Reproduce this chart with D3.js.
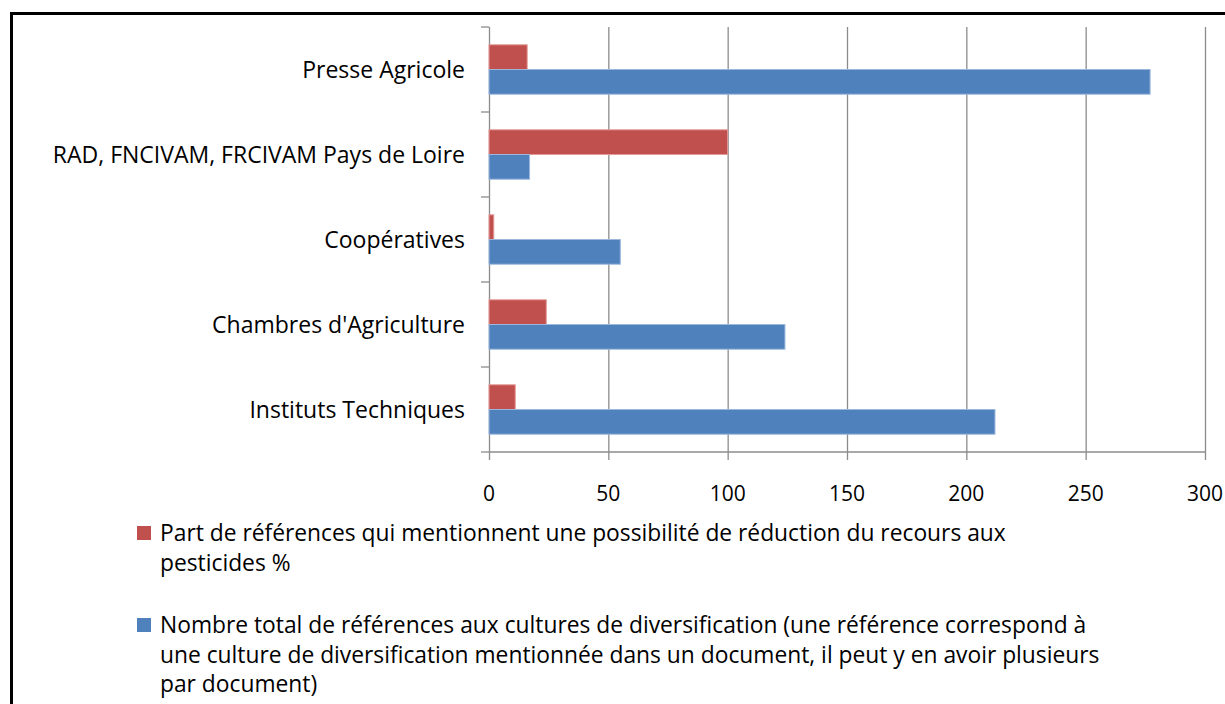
<!DOCTYPE html>
<html>
<head>
<meta charset="utf-8">
<script src="https://cdn.jsdelivr.net/npm/d3@7"></script>
<style>
  body { margin: 0; background: #fff; }
  svg text { font-family: "Open Sans", Lato, sans-serif; fill: #000; }
</style>
</head>
<body>
<svg width="1225" height="704"></svg>
<script>
// categories, top to bottom
var categories = ["Presse Agricole", "RAD, FNCIVAM, FRCIVAM Pays de Loire", "Coopératives", "Chambres d'Agriculture", "Instituts Techniques"];
var partPct = [16, 100, 2, 24, 11];          // red
var nbTotal = [277, 17, 55, 124, 212];       // blue
var xTicks = [0, 50, 100, 150, 200, 250, 300];
var legendRed = ["Part de références qui mentionnent une possibilité de réduction du recours aux", "pesticides %"];
var legendBlue = ["Nombre total de références aux cultures de diversification (une référence correspond à", "une culture de diversification mentionnée dans un document, il peut y en avoir plusieurs", "par document)"];

var red = "#c0504d", blue = "#4f81bd";

var svg = d3.select("svg");

// frame
svg.append("rect").attr("x", 11.5).attr("y", 13.5).attr("width", 1240).attr("height", 720)
  .attr("fill", "none").attr("stroke", "#000").attr("stroke-width", 3);

var x = d3.scaleLinear().domain([0, 300]).range([489, 1205]);
var y = d3.scaleBand().domain(categories).range([27, 452]);
var inner = d3.scaleBand().domain(["red", "blue"]).range([0, y.bandwidth()]).paddingOuter(0.72).paddingInner(0);

// gridlines
svg.append("g").selectAll("line").data(xTicks).enter().append("line")
  .attr("x1", function(d) { return x(d) + 0.5; }).attr("x2", function(d) { return x(d) + 0.5; })
  .attr("y1", 27).attr("y2", 460)
  .attr("stroke", "#8c8c8c").attr("stroke-width", 1.3);

// x axis line
svg.append("line").attr("x1", 489).attr("x2", 1205.5).attr("y1", 452).attr("y2", 452)
  .attr("stroke", "#8c8c8c").attr("stroke-width", 1.3);

// y category ticks
svg.append("g").selectAll("line").data(d3.range(categories.length + 1)).enter().append("line")
  .attr("x1", 481).attr("x2", 489)
  .attr("y1", function(i) { return 27 + i * y.step(); }).attr("y2", function(i) { return 27 + i * y.step(); })
  .attr("stroke", "#8c8c8c").attr("stroke-width", 1.3);

var rows = categories.map(function(c, i) { return {cat: c, red: partPct[i], blue: nbTotal[i]}; });

var g = svg.selectAll("g.row").data(rows).enter().append("g").attr("class", "row")
  .attr("transform", function(d) { return "translate(0," + y(d.cat) + ")"; });

g.append("rect").attr("x", x(0)).attr("y", inner("red"))
  .attr("width", function(d) { return x(d.red) - x(0); }).attr("height", inner.bandwidth())
  .attr("fill", red).attr("stroke", "#e59a98").attr("stroke-width", 1);
g.append("rect").attr("x", x(0)).attr("y", inner("blue"))
  .attr("width", function(d) { return x(d.blue) - x(0); }).attr("height", inner.bandwidth())
  .attr("fill", blue).attr("stroke", "#9bb7dc").attr("stroke-width", 1);

g.append("text").attr("x", 465).attr("y", y.bandwidth() / 2).attr("dy", "0.35em")
  .attr("text-anchor", "end").attr("font-size", 23)
  .text(function(d) { return d.cat; });

// x tick labels
svg.append("g").selectAll("text").data(xTicks).enter().append("text")
  .attr("x", function(d) { return x(d); }).attr("y", 501)
  .attr("text-anchor", "middle").attr("font-size", 21)
  .text(function(d) { return d; });

// legend
function legendItem(lines, color, top) {
  svg.append("rect").attr("x", 137).attr("y", top - 15).attr("width", 14).attr("height", 14).attr("fill", color);
  svg.append("g").selectAll("text").data(lines).enter().append("text")
    .attr("x", 160).attr("y", function(d, i) { return top + i * 29.5; })
    .attr("font-size", 22.8)
    .text(function(d) { return d; });
}
legendItem(legendRed, red, 541);
legendItem(legendBlue, blue, 633);
</script>
</body>
</html>
